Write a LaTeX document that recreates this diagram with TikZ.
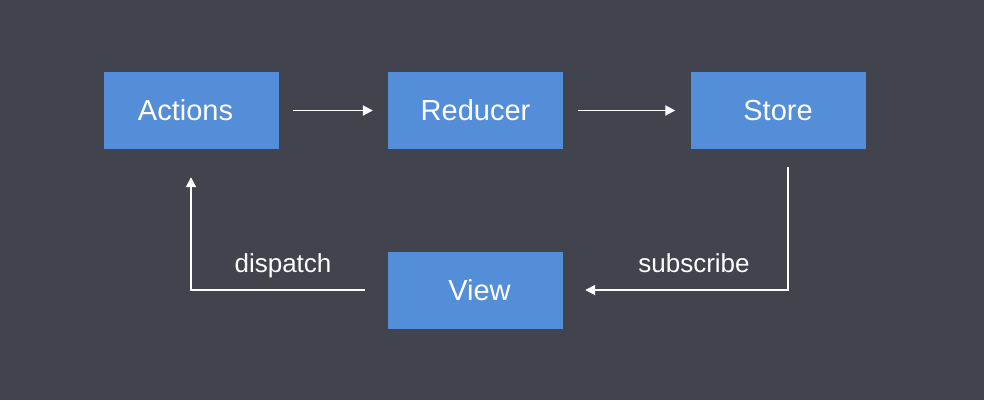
\documentclass[tikz,border=0pt]{standalone}
\usepackage{fontspec}
\setmainfont{Liberation Sans}
\usetikzlibrary{arrows.meta, positioning}
\definecolor{bgdark}{HTML}{41444C}
\definecolor{boxblue}{HTML}{548DD8}
\tikzset{
  box/.style = {fill = boxblue, minimum width = 175pt, minimum height = 77pt, inner sep = 0pt, text = white, font = \fontsize{29}{34}\selectfont},
  flow/.style = {draw = white, line width = 1.8pt, -{Triangle[length=10pt, width=10pt]}},
  tag/.style = {text = white, anchor = base, font = \fontsize{26}{30}\selectfont}
}
\begin{document}
\begin{tikzpicture}[x=1pt, y=-1pt]

\fill [bgdark] (0,0) rectangle (984,400);

\node (act) at (191.5,110.5) [box] {\hspace{-12pt}\raisebox{-2pt}{Actions}};
\node (red) at (475.5,110.5) [box] {Reducer};
\node (sto) at (778,110.5) [box] {Store};
\node (vw) at (475.5,290) [box] {\hspace{8pt}View};

\draw [flow, shorten <= 14pt, shorten >= 15pt] (act.east) -- (red.west);
\draw [flow, shorten <= 15pt, shorten >= 15pt] (red.east) -- (sto.west);
\draw [flow] ([xshift=10pt, yshift=-18pt]sto.south) |- ([xshift=22pt]vw.east);
\draw [flow] ([xshift=-23pt]vw.west) -| ([xshift=-0.5pt, yshift=-28pt]act.south);

\node (dsp) at (283,272) [tag] {dispatch};
\node (sub) at (694,272) [tag] {subscribe};

\end{tikzpicture}
\end{document}
